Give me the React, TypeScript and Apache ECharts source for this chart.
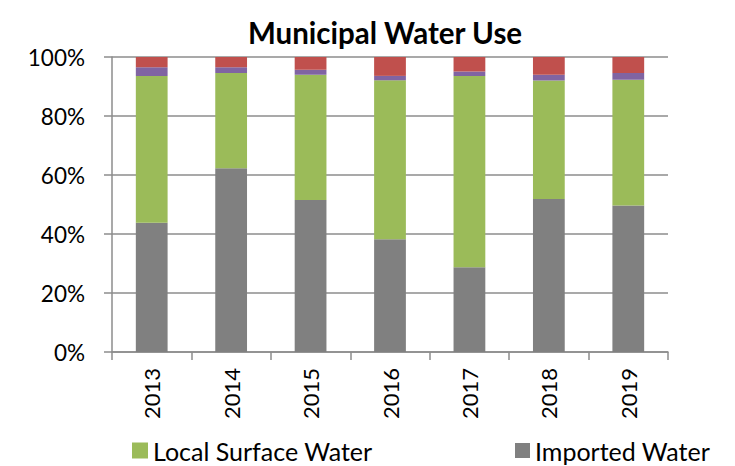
import React, { useEffect, useRef } from "react";
import * as echarts from "echarts";

const years = ["2013", "2014", "2015", "2016", "2017", "2018", "2019"];
const importedWater = [43.8, 62.3, 51.5, 38.2, 28.7, 51.9, 49.7];
const localSurfaceWater = [49.8, 32.3, 42.5, 53.9, 64.9, 40.1, 42.6];
const groundwater = [2.9, 1.9, 1.7, 1.5, 1.5, 2.0, 2.3];
const recycledWater = [3.5, 3.5, 4.3, 6.4, 4.9, 6.0, 5.4];
const yTicks = [0, 20, 40, 60, 80, 100];

const FONT = "Lato, 'Open Sans', sans-serif";

export default function App() {
  const ref = useRef<HTMLDivElement>(null);
  useEffect(() => {
    if (!ref.current) return;
    const chart = echarts.init(ref.current, null, { renderer: "svg" });
    const barW = "40%";
    const legendText = { fontFamily: FONT, fontSize: 25, color: "#000" };
    chart.setOption({
      animation: false,
      textStyle: { fontFamily: FONT },
      title: {
        text: "Municipal Water Use",
        left: 380,
        textAlign: "center",
        top: 12,
        textStyle: { fontFamily: FONT, fontSize: 29.5, fontWeight: "bold", color: "#000" },
      },
      legend: [
        {
          data: ["Local Surface Water"],
          left: 127,
          top: 433,
          itemWidth: 16,
          itemHeight: 16,
          itemGap: 6,
          icon: "rect",
          textStyle: legendText,
        },
        {
          data: ["Imported Water"],
          left: 510,
          top: 433,
          itemWidth: 15,
          itemHeight: 15,
          icon: "rect",
          textStyle: legendText,
        },
      ],
      grid: { left: 112, right: 67, top: 57, bottom: 114, containLabel: false },
      xAxis: {
        type: "category",
        data: years,
        axisLine: { lineStyle: { color: "#8c8c8c", width: 1.5 } },
        axisTick: { show: true, length: 8, alignWithLabel: false, lineStyle: { color: "#8c8c8c", width: 1.5 } },
        axisLabel: { rotate: 90, margin: 16, fontSize: 22, color: "#000", fontFamily: FONT },
      },
      yAxis: {
        type: "value",
        min: 0,
        max: 100,
        interval: 20,
        axisLine: { show: true, lineStyle: { color: "#8c8c8c", width: 1.5 } },
        axisTick: { show: true, length: 8, lineStyle: { color: "#8c8c8c", width: 1.5 } },
        splitLine: { lineStyle: { color: "#8c8c8c", width: 1.5 } },
        axisLabel: {
          margin: 27,
          fontSize: 22.5,
          color: "#000",
          fontFamily: FONT,
          formatter: (v: number) => (yTicks.includes(v) ? v + "%" : ""),
        },
      },
      series: [
        { name: "Imported Water", type: "bar", stack: "t", barWidth: barW, data: importedWater, itemStyle: { color: "#808080" } },
        { name: "Local Surface Water", type: "bar", stack: "t", barWidth: barW, data: localSurfaceWater, itemStyle: { color: "#9BBB59" } },
        { name: "Groundwater", type: "bar", stack: "t", barWidth: barW, data: groundwater, itemStyle: { color: "#8064A2" } },
        { name: "Recycled Water", type: "bar", stack: "t", barWidth: barW, data: recycledWater, itemStyle: { color: "#C0504D" } },
      ],
    });
    return () => chart.dispose();
  }, []);
  return (
    <div
      ref={ref}
      style={{ position: "absolute", left: 0, top: 0, width: 735, height: 466 }}
    />
  );
}
